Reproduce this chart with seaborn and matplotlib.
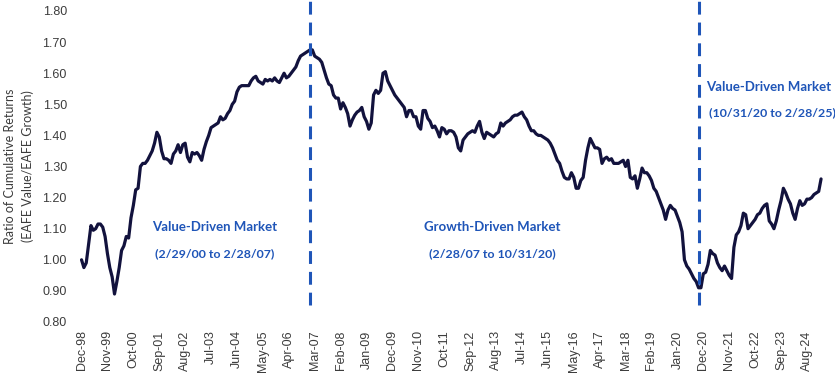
import numpy as np
import pandas as pd
import matplotlib
matplotlib.use("Agg")
import matplotlib.pyplot as plt
import seaborn as sns

# ---------------------------------------------------------------
# Datos: ratio mensual EAFE Value / EAFE Growth, Dec-98 .. Feb-25
# ---------------------------------------------------------------
start_month = "1998-12"
ratio = [
    1.00, 0.975, 0.99, 1.05, 1.11, 1.095, 1.10, 1.115, 1.115, 1.105,
    1.075, 1.02, 0.975, 0.945, 0.89, 0.93, 0.975, 1.03, 1.045, 1.075,
    1.07, 1.135, 1.175, 1.225, 1.23, 1.30, 1.31, 1.31, 1.32, 1.335,
    1.35, 1.375, 1.41, 1.395, 1.35, 1.325, 1.325, 1.32, 1.31, 1.34,
    1.35, 1.37, 1.345, 1.37, 1.375, 1.33, 1.315, 1.345, 1.34, 1.345,
    1.335, 1.32, 1.355, 1.38, 1.40, 1.425, 1.43, 1.435, 1.44, 1.46,
    1.45, 1.455, 1.47, 1.48, 1.50, 1.51, 1.54, 1.555, 1.56, 1.56,
    1.56, 1.56, 1.575, 1.585, 1.59, 1.575, 1.57, 1.565, 1.58, 1.575,
    1.58, 1.575, 1.585, 1.575, 1.57, 1.585, 1.60, 1.585, 1.59, 1.60,
    1.61, 1.62, 1.64, 1.655, 1.66, 1.665, 1.67, 1.675, 1.675, 1.655,
    1.65, 1.645, 1.635, 1.61, 1.585, 1.565, 1.56, 1.53, 1.52, 1.52,
    1.485, 1.505, 1.49, 1.47, 1.43, 1.45, 1.465, 1.475, 1.48, 1.49,
    1.46, 1.445, 1.42, 1.44, 1.53, 1.545, 1.535, 1.545, 1.60, 1.605,
    1.575, 1.56, 1.545, 1.53, 1.52, 1.51, 1.50, 1.49, 1.46, 1.48,
    1.48, 1.46, 1.46, 1.43, 1.42, 1.48, 1.48, 1.455, 1.445, 1.425,
    1.43, 1.415, 1.395, 1.425, 1.42, 1.405, 1.415, 1.415, 1.41, 1.395,
    1.36, 1.35, 1.385, 1.395, 1.405, 1.41, 1.415, 1.41, 1.43, 1.445,
    1.41, 1.39, 1.41, 1.405, 1.40, 1.395, 1.405, 1.41, 1.44, 1.43,
    1.44, 1.445, 1.45, 1.46, 1.465, 1.465, 1.47, 1.475, 1.46, 1.45,
    1.43, 1.415, 1.415, 1.405, 1.40, 1.40, 1.395, 1.39, 1.385, 1.375,
    1.36, 1.34, 1.32, 1.31, 1.285, 1.265, 1.26, 1.26, 1.28, 1.265,
    1.23, 1.23, 1.255, 1.265, 1.32, 1.36, 1.39, 1.375, 1.36, 1.36,
    1.355, 1.31, 1.325, 1.33, 1.32, 1.325, 1.31, 1.31, 1.31, 1.315,
    1.32, 1.30, 1.32, 1.265, 1.26, 1.27, 1.23, 1.26, 1.295, 1.28,
    1.28, 1.27, 1.255, 1.23, 1.22, 1.20, 1.18, 1.16, 1.13, 1.16,
    1.175, 1.165, 1.16, 1.14, 1.12, 1.09, 1.00, 0.98, 0.97, 0.955,
    0.94, 0.93, 0.91, 0.91, 0.955, 0.96, 0.985, 1.03, 1.02, 1.015,
    0.99, 0.975, 0.965, 0.98, 0.965, 0.95, 0.94, 1.04, 1.08, 1.09,
    1.11, 1.15, 1.145, 1.10, 1.11, 1.12, 1.13, 1.145, 1.15, 1.165,
    1.175, 1.18, 1.125, 1.115, 1.10, 1.125, 1.16, 1.19, 1.23, 1.215,
    1.195, 1.18, 1.15, 1.13, 1.165, 1.19, 1.175, 1.18, 1.195, 1.195,
    1.20, 1.21, 1.215, 1.22, 1.26,
]

# cambios de régimen (marcados con línea discontinua)
regime_breaks = ["Jan-07", "Oct-20"]
regime_labels = [
    ("Value-Driven Market", "(2/29/00 to 2/28/07)"),
    ("Growth-Driven Market", "(2/28/07 to 10/31/20)"),
    ("Value-Driven Market", "(10/31/20 to 2/28/25)"),
]
y_ticks = [0.80, 0.90, 1.00, 1.10, 1.20, 1.30, 1.40, 1.50, 1.60, 1.70, 1.80]
label_step = 11

months = pd.date_range(start_month, periods=len(ratio), freq="MS").strftime("%b-%y")
df = pd.DataFrame({"idx": np.arange(len(ratio)), "mes": months, "ratio": ratio})

# ---------------------------------------------------------------
# Gráfico
# ---------------------------------------------------------------
sns.set_style("white")
plt.rcParams["font.family"] = ["Liberation Sans", "DejaVu Sans"]

navy = "#12123d"
blue = "#1f55b8"
grey = "#3c3c3c"

fig = plt.figure(figsize=(8.35, 3.8), dpi=100)
ax = fig.add_axes([78 / 835, 58 / 380, 752 / 835, 311 / 380])

sns.lineplot(data=df, x="idx", y="ratio", color=navy, linewidth=2.3, ax=ax)

# líneas de cambio de régimen
for b in regime_breaks:
    pos = df.index[df["mes"] == b][0]
    ax.axvline(pos, ymin=0.055, ymax=1.04, color=blue, linewidth=2.2,
               linestyle=(0, (4.2, 2.6)), clip_on=False)

ax.set_xlim(-1.5, 317.8)
ax.set_ylim(0.80, 1.80)
ax.set_yticks(y_ticks)
ax.set_yticklabels([f"{v:.2f}" for v in y_ticks], fontsize=9, color=grey)
ticks = df["idx"][::label_step]
ax.set_xticks(ticks)
ax.set_xticklabels(df["mes"][::label_step], rotation=90, fontsize=9, color=grey)
ax.tick_params(axis="x", length=0, pad=6)
ax.tick_params(axis="y", length=0, pad=8)
ax.set_xlabel("")
ax.set_ylabel("")
fig.text(19 / 835, 0.562, "Ratio of Cumulative Returns\n(EAFE Value/EAFE Growth)",
         rotation=90, ha="center", va="center", fontsize=9, color=grey,
         family=["Lato", "DejaVu Sans"], linespacing=1.45)
sns.despine(ax=ax, left=True, bottom=True)

# textos de cada régimen
head = dict(color=blue, fontsize=9.5, fontweight="bold", family=["Lato", "DejaVu Sans"])
sub = dict(head, fontsize=8.9)
ax.text(56.7, 1.104, regime_labels[0][0], ha="center", va="center", **head)
ax.text(56.7, 1.021, regime_labels[0][1], ha="center", va="center", **sub)
ax.text(174.3, 1.104, regime_labels[1][0], ha="center", va="center", **head)
ax.text(174.3, 1.021, regime_labels[1][1], ha="center", va="center", **sub)
ax.text(265.2, 1.555, regime_labels[2][0], ha="left", va="center", **head)
ax.text(266.4, 1.474, regime_labels[2][1], ha="left", va="center", **sub)

fig.savefig("out.png", dpi=100)
